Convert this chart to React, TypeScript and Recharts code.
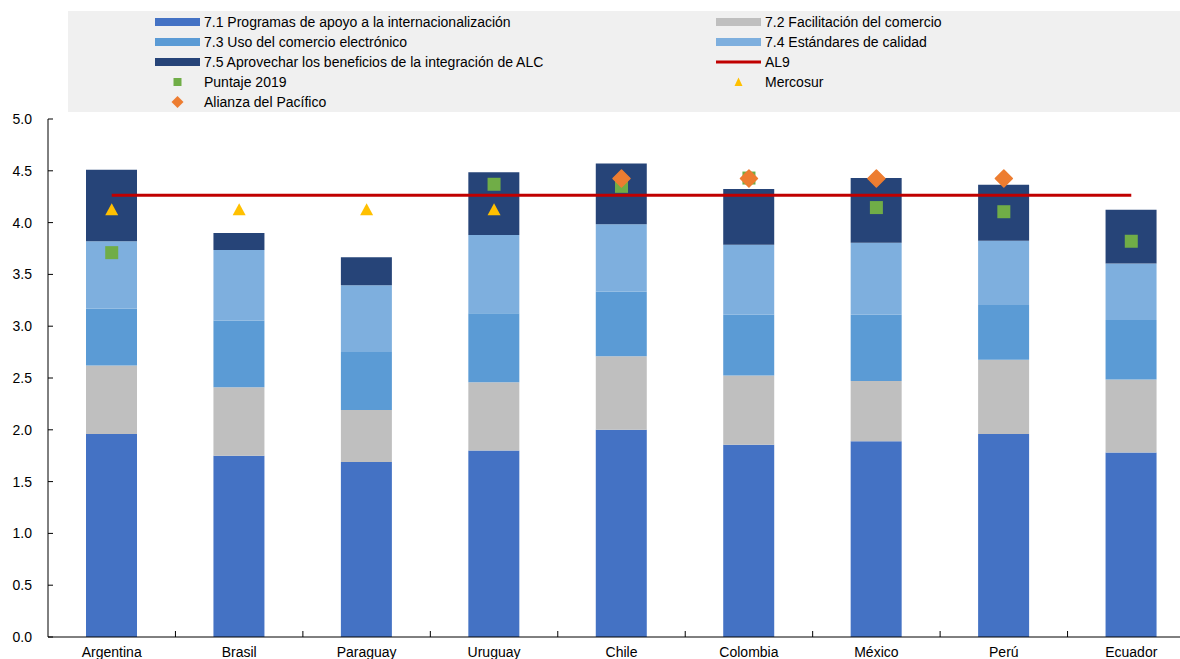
import React from 'react';
import { ComposedChart, Bar, Line, Scatter, XAxis, YAxis } from 'recharts';

const categories = ['Argentina', 'Brasil', 'Paraguay', 'Uruguay', 'Chile', 'Colombia', 'México', 'Perú', 'Ecuador'];
const s71 = [1.96, 1.75, 1.69, 1.80, 2.00, 1.855, 1.89, 1.96, 1.78];
const s72 = [0.66, 0.66, 0.50, 0.66, 0.71, 0.67, 0.58, 0.715, 0.705];
const s73 = [0.55, 0.645, 0.56, 0.665, 0.625, 0.585, 0.64, 0.53, 0.575];
const s74 = [0.65, 0.68, 0.645, 0.755, 0.65, 0.675, 0.695, 0.62, 0.545];
const s75 = [0.69, 0.165, 0.27, 0.605, 0.585, 0.54, 0.625, 0.54, 0.52];
const puntaje2019 = [3.71, null, null, 4.37, 4.35, 4.43, 4.145, 4.105, 3.82];
const al9 = [4.265, 4.265, 4.265, 4.265, 4.265, 4.265, 4.265, 4.265, 4.265];
const mercosur = [4.13, 4.13, 4.13, 4.13, null, null, null, null, null];
const alianza = [null, null, null, null, 4.425, 4.425, 4.425, 4.425, null];
const yTicks = [0, 0.5, 1, 1.5, 2, 2.5, 3, 3.5, 4, 4.5, 5];

const C71 = '#4472C4';
const C72 = '#BFBFBF';
const C73 = '#5B9BD5';
const C74 = '#7EAFDE';
const C75 = '#264478';
const GREEN = '#70AD47';
const ORANGE = '#ED7D31';
const YELLOW = '#FFC000';
const RED = '#C00000';

const FONT = "'Liberation Sans', Arial, sans-serif";

const data = categories.map((name, i) => ({
  name,
  s71: s71[i],
  s72: s72[i],
  s73: s73[i],
  s74: s74[i],
  s75: s75[i],
  puntaje: puntaje2019[i],
  al9: al9[i],
  mercosur: mercosur[i],
  alianza: alianza[i],
}));

const CHART_W = 1200;
const CHART_H = 659;
const Y_W = 48;
const M_RIGHT = 5;
const band = (CHART_W - Y_W - M_RIGHT) / categories.length;

const XTick = (props: any) => {
  const { x, y, payload, index } = props;
  return (
    <g>
      <text x={x} y={y + 20} textAnchor="middle" fontSize={14} fontFamily={FONT} fill="#000">
        {payload.value}
      </text>
      {index < categories.length - 1 && (
        <line x1={x + band / 2} x2={x + band / 2} y1={y} y2={y - 6} stroke="#000" strokeWidth={1} />
      )}
    </g>
  );
};

const YTick = (props: any) => {
  const { x, y, payload } = props;
  return (
    <g>
      <text x={x - 16} y={y + 5} textAnchor="end" fontSize={14} fontFamily={FONT} fill="#000">
        {Number(payload.value).toFixed(1)}
      </text>
      <line x1={x} x2={x + 5} y1={y} y2={y} stroke="#000" strokeWidth={1} />
    </g>
  );
};

const Square = (props: any) => {
  const { cx, cy } = props;
  if (cx == null || cy == null || isNaN(cy)) return null;
  const s = 13;
  return <rect x={cx - s / 2} y={cy - s / 2} width={s} height={s} fill={GREEN} />;
};

const Triangle = (props: any) => {
  const { cx, cy } = props;
  if (cx == null || cy == null || isNaN(cy)) return null;
  const w = 13, h = 12;
  return <polygon points={`${cx},${cy - h / 2} ${cx + w / 2},${cy + h / 2} ${cx - w / 2},${cy + h / 2}`} fill={YELLOW} />;
};

const Diamond = (props: any) => {
  const { cx, cy } = props;
  if (cx == null || cy == null || isNaN(cy)) return null;
  const r = 8.5;
  return <polygon points={`${cx},${cy - r} ${cx + r},${cy} ${cx},${cy + r} ${cx - r},${cy}`} fill={ORANGE} strokeLinejoin="round" stroke={ORANGE} strokeWidth={1.5} />;
};

const legendLeft = [
  { type: 'bar', color: C71, label: '7.1 Programas de apoyo a la internacionalización' },
  { type: 'bar', color: C73, label: '7.3 Uso del comercio electrónico' },
  { type: 'bar', color: C75, label: '7.5 Aprovechar los beneficios de la integración de ALC' },
  { type: 'square', color: GREEN, label: 'Puntaje 2019' },
  { type: 'diamond', color: ORANGE, label: 'Alianza del Pacífico' },
];
const legendRight = [
  { type: 'bar', color: C72, label: '7.2 Facilitación del comercio' },
  { type: 'bar', color: C74, label: '7.4 Estándares de calidad' },
  { type: 'line', color: RED, label: 'AL9' },
  { type: 'triangle', color: YELLOW, label: 'Mercosur' },
];

const Swatch = ({ type, color }: { type: string; color: string }) => {
  let mark: React.ReactNode = null;
  if (type === 'bar') mark = <rect x={0} y={6} width={45} height={8} fill={color} />;
  if (type === 'line') mark = <rect x={0} y={8.5} width={45} height={3} fill={color} />;
  if (type === 'square') mark = <rect x={18.5} y={6} width={8} height={8} fill={color} />;
  if (type === 'triangle') mark = <polygon points="22.5,5.5 26.5,14 18.5,14" fill={color} />;
  if (type === 'diamond') mark = <polygon points="22.5,4 28.5,10 22.5,16 16.5,10" fill={color} />;
  return (
    <svg width={45} height={20} style={{ display: 'block', marginRight: 4 }}>
      {mark}
    </svg>
  );
};

const LegendColumn = ({ items, left }: { items: any[]; left: number }) => (
  <div style={{ position: 'absolute', left, top: 1 }}>
    {items.map((it) => (
      <div key={it.label} style={{ display: 'flex', alignItems: 'center', height: 20, whiteSpace: 'nowrap' }}>
        <Swatch type={it.type} color={it.color} />
        <span style={{ fontFamily: FONT, fontSize: 14, color: '#000' }}>{it.label}</span>
      </div>
    ))}
  </div>
);

export default function App() {
  return (
    <div style={{ position: 'absolute', left: 0, top: 0, width: 1180, height: 659, overflow: 'hidden', background: '#fff' }}>
      <ComposedChart
        width={CHART_W}
        height={CHART_H}
        data={data}
        margin={{ top: 119, right: M_RIGHT, left: 0, bottom: 0 }}
      >
        <XAxis
          dataKey="name"
          height={22}
          tickSize={0}
          tickMargin={0}
          tick={<XTick />}
          axisLine={{ stroke: '#000', strokeWidth: 1 }}
          tickLine={false}
          interval={0}
        />
        <YAxis
          width={Y_W}
          domain={[0, 5]}
          ticks={yTicks}
          tickSize={0}
          tickMargin={0}
          tick={<YTick />}
          axisLine={{ stroke: '#000', strokeWidth: 1 }}
          tickLine={false}
          interval={0}
        />
        <Bar dataKey="s71" stackId="a" fill={C71} barSize={51} isAnimationActive={false} />
        <Bar dataKey="s72" stackId="a" fill={C72} barSize={51} isAnimationActive={false} />
        <Bar dataKey="s73" stackId="a" fill={C73} barSize={51} isAnimationActive={false} />
        <Bar dataKey="s74" stackId="a" fill={C74} barSize={51} isAnimationActive={false} />
        <Bar dataKey="s75" stackId="a" fill={C75} barSize={51} isAnimationActive={false} />
        <Line dataKey="al9" stroke={RED} strokeWidth={3} dot={false} activeDot={false} isAnimationActive={false} />
        <Scatter dataKey="puntaje" shape={<Square />} isAnimationActive={false} />
        <Scatter dataKey="mercosur" shape={<Triangle />} isAnimationActive={false} />
        <Scatter dataKey="alianza" shape={<Diamond />} isAnimationActive={false} />
      </ComposedChart>
      <div style={{ position: 'absolute', left: 68, top: 11, width: 1112, height: 101, background: '#F0F0F0' }}>
        <LegendColumn items={legendLeft} left={87} />
        <LegendColumn items={legendRight} left={648} />
      </div>
    </div>
  );
}
